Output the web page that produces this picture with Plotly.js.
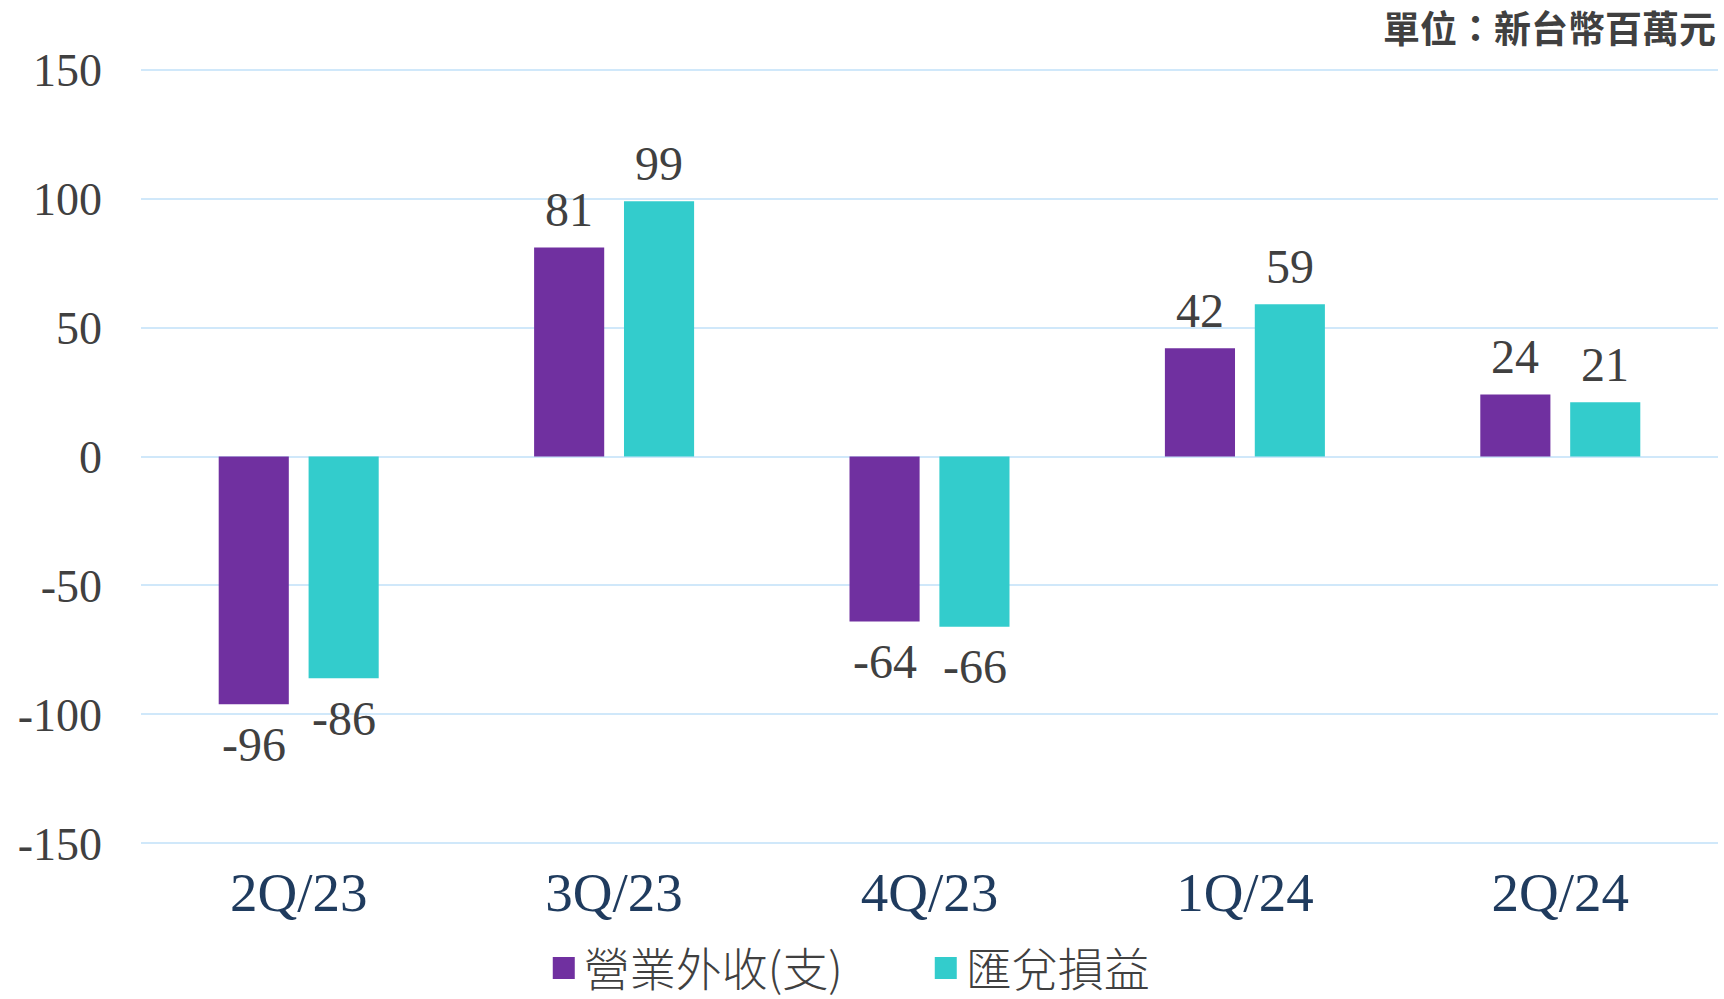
<!DOCTYPE html>
<html>
<head>
<meta charset="utf-8">
<script src="https://cdn.plot.ly/plotly-3.0.1.min.js"></script>
<style>html,body{margin:0;padding:0;background:#fff;}#chart{width:1724px;height:999px;}</style>
</head>
<body>
<div id="chart"></div>
<script>
const categories = ["2Q/23", "3Q/23", "4Q/23", "1Q/24", "2Q/24"];
const nonOpValues = [-96, 81, -64, 42, 24];
const fxValues = [-86, 99, -66, 59, 21];
const seriesNames = ["營業外收(支)", "匯兌損益"];
const yTicks = [-150, -100, -50, 0, 50, 100, 150];
const unitText = "單位：新台幣百萬元";

const serif = "Liberation Serif, Times New Roman, serif";
const labelFont = {family: serif, size: 48, color: "#404040"};

const traces = [
  {type: "bar", name: seriesNames[0], x: categories, y: nonOpValues,
   marker: {color: "#7030A0"}, hoverinfo: "x+y"},
  {type: "bar", name: seriesNames[1], x: categories, y: fxValues,
   marker: {color: "#33CCCC"}, hoverinfo: "x+y"}
];

// value labels placed through the axes' scales
const valueLabels = [];
[nonOpValues, fxValues].forEach(function(vals, si){
  vals.forEach(function(v, ci){
    valueLabels.push({x: categories[ci], y: v, xref: "x", yref: "y", text: String(v),
      showarrow: false, xanchor: "center", yanchor: "middle",
      xshift: si === 0 ? -45 : 45, yshift: v >= 0 ? 38 : -40, font: labelFont});
  });
});

const layout = {
  width: 1724, height: 999,
  margin: {l: 141, r: 6, t: 67, b: 153},
  paper_bgcolor: "#fff", plot_bgcolor: "#fff",
  barmode: "group", bargap: 0.43, bargroupgap: 0.22,
  showlegend: true,
  legend: {orientation: "h", x: 0.2554, xanchor: "left", yref: "container", y: 0.031, yanchor: "middle",
    font: {family: "Noto Sans CJK TC, sans-serif", size: 46, color: "#404040", weight: 300},
    entrywidth: 337, entrywidthmode: "pixels", tracegroupgap: 0, itemclick: false},
  xaxis: {type: "category", showgrid: false, showline: false, ticks: "", zeroline: false,
    tickfont: {family: serif, size: 55, color: "#1F3B5E"},
    ticklabelstandoff: 9},
  yaxis: {range: [-151, 151], tickvals: yTicks, ticktext: yTicks.map(String),
    showgrid: true, gridcolor: "#D0E8FA", gridwidth: 2,
    zeroline: true, zerolinecolor: "#D0E8FA", zerolinewidth: 2,
    showline: false, ticks: "",
    tickfont: {family: serif, size: 46, color: "#404040"},
    ticklabelstandoff: 38},
  annotations: valueLabels.concat([{text: unitText, xref: "paper", yref: "paper", x: 1, y: 1, yshift: 40,
    xanchor: "right", yanchor: "middle", showarrow: false,
    font: {family: "Noto Sans CJK TC, sans-serif", size: 37, color: "#404040", weight: 700}}])
};

Plotly.newPlot("chart", traces, layout, {displayModeBar: false, responsive: false}).then(function(){
  document.querySelectorAll("#chart .legendpoints path").forEach(function(p){
    p.setAttribute("d", "M11,11H-11V-11H11Z");
  });
});
</script>
</body>
</html>
